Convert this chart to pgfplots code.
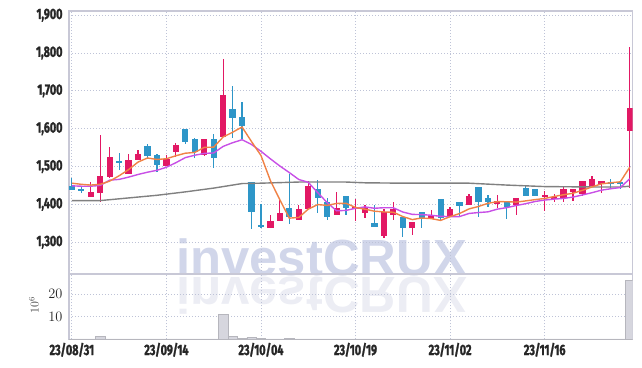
\documentclass[border=0pt]{standalone}
\usepackage{pgfplots}
\pgfplotsset{compat=1.18}
\usepackage{pgfplotstable}
\usepackage{fontspec}
\newfontfamily\lab{Fira Sans}[FakeStretch=0.72, BoldFeatures={FakeBold=1.6}]
\newfontfamily\wm{Liberation Sans}
\definecolor{upc}{RGB}{226,24,100}
\definecolor{dnc}{RGB}{46,150,200}
\definecolor{maf}{RGB}{240,130,70}
\definecolor{mat}{RGB}{200,80,230}
\definecolor{mas}{RGB}{128,128,128}
\definecolor{gridc}{RGB}{190,195,215}
\definecolor{framec}{RGB}{200,200,214}
\definecolor{wmA}{RGB}{209,214,234}
\definecolor{wmB}{RGB}{236,237,244}
\definecolor{volc}{RGB}{214,214,222}

\pgfplotstableread{
i o h l c
0 1449 1471 1437 1439
1 1440 1449 1429 1436
2 1420 1460 1420 1432
3 1431 1584 1407 1475
4 1473 1551 1469 1525
5 1515 1535 1491 1510
6 1481 1532 1481 1517
7 1516 1544 1516 1532
8 1554 1560 1519 1529
9 1531 1533 1485 1505
10 1502 1531 1501 1521
11 1539 1561 1526 1556
12 1599 1599 1559 1566
13 1573 1575 1522 1539
14 1531 1573 1529 1572
15 1573 1587 1495 1523
16 1579 1784 1579 1690
17 1652 1713 1575 1629
18 1631 1671 1572 1608
19 1459 1459 1334 1380
20 1345 1401 1338 1339
21 1338 1372 1338 1357
22 1356 1415 1356 1376
23 1391 1479 1349 1366
24 1358 1398 1358 1389
25 1387 1461 1387 1449
26 1441 1464 1376 1417
27 1405 1418 1359 1366
28 1372 1434 1372 1391
29 1422 1422 1372 1391
30 1387 1415 1356 1394
31 1378 1398 1363 1394
32 1352 1398 1340 1340
33 1317 1389 1312 1381
34 1372 1407 1358 1387
35 1367 1367 1314 1337
36 1337 1354 1318 1354
37 1380 1380 1338 1361
38 1361 1385 1361 1373
39 1415 1415 1358 1363
40 1370 1394 1370 1387
41 1407 1407 1367 1395
42 1398 1428 1398 1422
43 1446 1446 1367 1405
44 1418 1424 1394 1405
45 1402 1424 1391 1409
46 1407 1407 1361 1394
47 1398 1417 1372 1417
48 1444 1452 1421 1421
49 1441 1441 1422 1422
50 1420 1436 1383 1424
51 1413 1428 1407 1420
52 1417 1445 1405 1440
53 1433 1441 1408 1441
54 1428 1461 1422 1461
55 1449 1475 1449 1468
56 1453 1461 1430 1461
57 1459 1468 1441 1455
58 1459 1459 1441 1453
59 1594 1817 1443 1654
}\candles

\pgfplotstableread{
i v
0 1456
1 1453
2 1451
3 1453
4 1461.4
5 1475.6
6 1491.8
7 1511.8
8 1522.6
9 1518.6
10 1520.6
11 1528.4
12 1535.2
13 1537.2
14 1550.6
15 1551.2
16 1578
17 1590.6
18 1604.4
19 1566
20 1529.2
21 1462.6
22 1412
23 1363.6
24 1365.4
25 1387.4
26 1399.4
27 1397.4
28 1402.4
29 1402.8
30 1391.8
31 1387.2
32 1382
33 1380
34 1379.2
35 1367.8
36 1359.8
37 1364
38 1362.4
39 1357.6
40 1367.6
41 1375.8
42 1388
43 1394.4
44 1402.8
45 1407.2
46 1407
47 1406
48 1409.2
49 1412.6
50 1415.6
51 1420.8
52 1425.4
53 1429.4
54 1437.2
55 1446
56 1454.2
57 1457.2
58 1459.6
59 1498.2
}\maA

\pgfplotstableread{
i v
0 1449
1 1448
2 1448
3 1450
4 1464
5 1466
6 1472
7 1479
8 1485
9 1490
10 1498.1
11 1510.1
12 1523.5
13 1529.9
14 1534.6
15 1535.9
16 1553.2
17 1562.9
18 1570.8
19 1558.3
20 1540.2
21 1520.3
22 1501.3
23 1484
24 1465.7
25 1458.3
26 1431
27 1404.7
28 1383
29 1384.1
30 1389.6
31 1393.3
32 1389.7
33 1391.2
34 1391
35 1379.8
36 1373.5
37 1373
38 1371.2
39 1368.4
40 1367.7
41 1367.8
42 1376
43 1378.4
44 1380.2
45 1387.4
46 1391.4
47 1397
48 1401.8
49 1407.7
50 1411.4
51 1413.9
52 1415.7
53 1419.3
54 1424.9
55 1430.8
56 1437.5
57 1441.3
58 1444.5
59 1467.7
}\maB

\pgfplotstableread{
i v
0 1410
3 1410
6 1417
9 1424
12 1433
15 1443
18 1455
20 1456
24 1459
29 1459
31 1457
35 1456
42 1456
46 1451
50 1447
55 1446
58 1446
59 1448
}\maC

\pgfplotstableread{
i v
0 0.2
1 0.2
2 0.2
3 1.3
4 0.2
5 0.2
6 0.2
7 0.2
8 0.2
9 0.2
10 0.2
11 0.2
12 0.2
13 0.2
14 0.2
15 0.2
16 11.1
17 1.4
18 0.5
19 1.0
20 0.5
21 0.2
22 0.2
23 0.5
24 0.2
25 0.2
26 0.2
27 0.2
28 0.2
29 0.2
30 0.2
31 0.2
32 0.2
33 0.2
34 0.2
35 0.2
36 0.2
37 0.2
38 0.2
39 0.2
40 0.2
41 0.2
42 0.2
43 0.2
44 0.2
45 0.2
46 0.2
47 0.2
48 0.2
49 0.2
50 0.2
51 0.2
52 0.2
53 0.2
54 0.2
55 0.2
56 0.2
57 0.2
58 0.2
59 26.1
}\vol

\pgfplotsset{
  common/.style={
    scale only axis, width=563.6bp,
    xmin=-0.3, xmax=59.3,
    xtick={0,10,20,30,40,50},
    grid=major,
    major grid style={draw=gridc, line width=0.7bp, dash pattern=on 1bp off 2bp},
    axis line style={draw=framec, line width=1.2bp},
    major tick length=0pt,
    tick label style={font=\lab\bfseries\fontsize{15}{15}\selectfont, text=black!85},
    yticklabel style={xshift=-3bp},
  },
  candle/.style={only marks, mark=*, mark size=0pt,
    mark options={draw opacity=0, fill opacity=0}, forget plot},
}

\begin{document}
\begin{tikzpicture}
\path[use as bounding box] (-69bp,-94bp) rectangle (573bp,274bp);
\node[anchor=base west, inner sep=0pt, text=wmB, yscale=-1] at (107bp,-3bp) {\wm\bfseries\fontsize{51}{51}\selectfont investCRUX};
\node[anchor=base west, inner sep=0pt, text=wmA] at (107bp,-1bp) {\wm\bfseries\fontsize{51}{51}\selectfont investCRUX};

\begin{axis}[common, at={(0,0)}, anchor=south west, height=263bp,
  ymin=1216, ymax=1911,
  xticklabels={},
  ytick={1300,1400,1500,1600,1700,1800,1900},
  yticklabels={{1,300},{1,400},{1,500},{1,600},{1,700},{1,800},{1,900}},
]
% wicks
\addplot[candle,
  restrict expr to domain={\thisrow{c}-\thisrow{o}}{0:100000},
  error bars/.cd, y dir=both, y explicit, error mark=none,
  error bar style={line width=1.2bp, draw=upc}]
  table[x=i, y expr={(\thisrow{h}+\thisrow{l})/2}, y error expr={(\thisrow{h}-\thisrow{l})/2}] {\candles};
\addplot[candle,
  restrict expr to domain={\thisrow{o}-\thisrow{c}}{0:100000},
  error bars/.cd, y dir=both, y explicit, error mark=none,
  error bar style={line width=1.2bp, draw=dnc}]
  table[x=i, y expr={(\thisrow{h}+\thisrow{l})/2}, y error expr={(\thisrow{h}-\thisrow{l})/2}] {\candles};
% bodies
\addplot[candle,
  restrict expr to domain={\thisrow{c}-\thisrow{o}}{0:100000},
  error bars/.cd, y dir=both, y explicit, error mark=none,
  error bar style={line width=6.2bp, draw=upc}]
  table[x=i, y expr={(\thisrow{o}+\thisrow{c})/2}, y error expr={abs(\thisrow{o}-\thisrow{c})/2}] {\candles};
\addplot[candle,
  restrict expr to domain={\thisrow{o}-\thisrow{c}}{0:100000},
  error bars/.cd, y dir=both, y explicit, error mark=none,
  error bar style={line width=6.2bp, draw=dnc}]
  table[x=i, y expr={(\thisrow{o}+\thisrow{c})/2}, y error expr={abs(\thisrow{o}-\thisrow{c})/2}] {\candles};
% moving averages
\addplot[mas, line width=1.4bp, no marks] table[x=i, y=v] {\maC};
\addplot[mat, line width=1.4bp, no marks] table[x=i, y=v] {\maB};
\addplot[maf, line width=1.4bp, no marks] table[x=i, y=v] {\maA};
\end{axis}

\begin{axis}[common, at={(0,0)}, anchor=north west, height=65.3bp,
  ymin=0, ymax=28.8,
  ytick={10,20},
  xticklabels={23/08/31,23/09/14,23/10/04,23/10/19,23/11/02,23/11/16},
  ybar, bar width=1,
]
\addplot[fill=volc, draw=volc!85!black, line width=0.5bp] table[x=i, y=v] {\vol};
\end{axis}
\node[rotate=90, text=black!75, font=\fontsize{12}{12}\selectfont] at (-35bp,-31bp) {$10^{6}$};
\end{tikzpicture}
\end{document}
